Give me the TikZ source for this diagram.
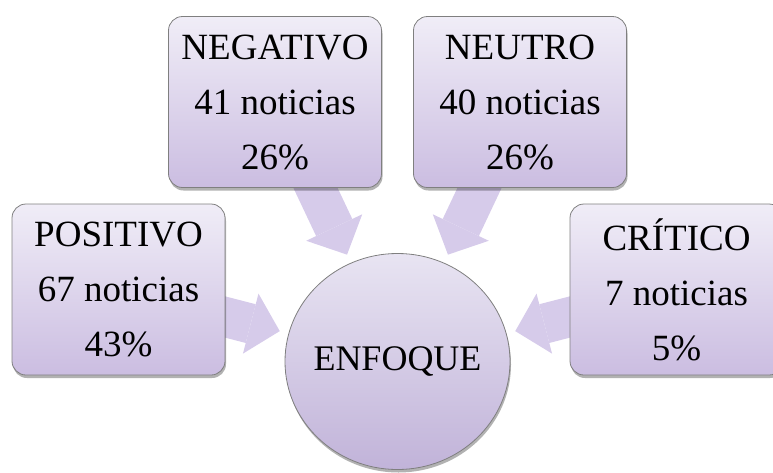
\documentclass[tikz,border=0pt]{standalone}
\usepackage{fontspec}
\setmainfont{Liberation Serif}
\usetikzlibrary{shapes.geometric,arrows.meta,shadows,backgrounds}
\definecolor{boxtop}{HTML}{F0EDF7}
\definecolor{boxbottom}{HTML}{CBBDE1}
\definecolor{circtop}{HTML}{E8E4F2}
\definecolor{circbottom}{HTML}{C1B3D9}
\definecolor{arrowcol}{HTML}{D6CBEA}
\definecolor{edgegray}{HTML}{7F7F7F}
\begin{document}
\begin{tikzpicture}[x=1pt,y=-1pt,
  catbox/.style={rounded corners=14pt, draw=edgegray, line width=0.8pt,
    top color=boxtop, bottom color=boxbottom,
    minimum width=213pt, minimum height=171pt, inner sep=0pt, align=center,
    font=\fontsize{37}{55}\selectfont,
    drop shadow={shadow xshift=1pt, shadow yshift=-3pt, opacity=0.3, fill=black}},
  hub/.style={ellipse, draw=edgegray, line width=0.8pt,
    top color=circtop, bottom color=circbottom,
    minimum width=225pt, minimum height=216pt, inner sep=-40pt,
    font=\fontsize{36}{44}\selectfont,
    drop shadow={shadow xshift=1pt, shadow yshift=-3pt, opacity=0.3, fill=black}},
  flow/.style={draw=arrowcol, line width=40pt,
    -{Triangle[width=62pt,length=30pt,line width=0pt]},
    shorten <=-25pt, shorten >=9pt}
]
\useasboundingbox (0,0) rectangle (773,472);
\node[hub] (enf) at (397.5,361.5) {ENFOQUE};
\node[catbox] (pos) at (118.5,289.5) {POSITIVO\\67 noticias\\43\%};
\node[catbox] (neg) at (275,102) {NEGATIVO\\41 noticias\\26\%};
\node[catbox] (neu) at (520,102) {NEUTRO\\40 noticias\\26\%};
\node[catbox] (cri) at (676.5,289.5) {CRÍTICO\\7 noticias\\5\%};
\begin{scope}[on background layer]
  \draw[flow] (pos) -- (enf);
  \draw[flow] (neg) -- (enf);
  \draw[flow] (neu) -- (enf);
  \draw[flow] (cri) -- (enf);
\end{scope}
\end{tikzpicture}
\end{document}
